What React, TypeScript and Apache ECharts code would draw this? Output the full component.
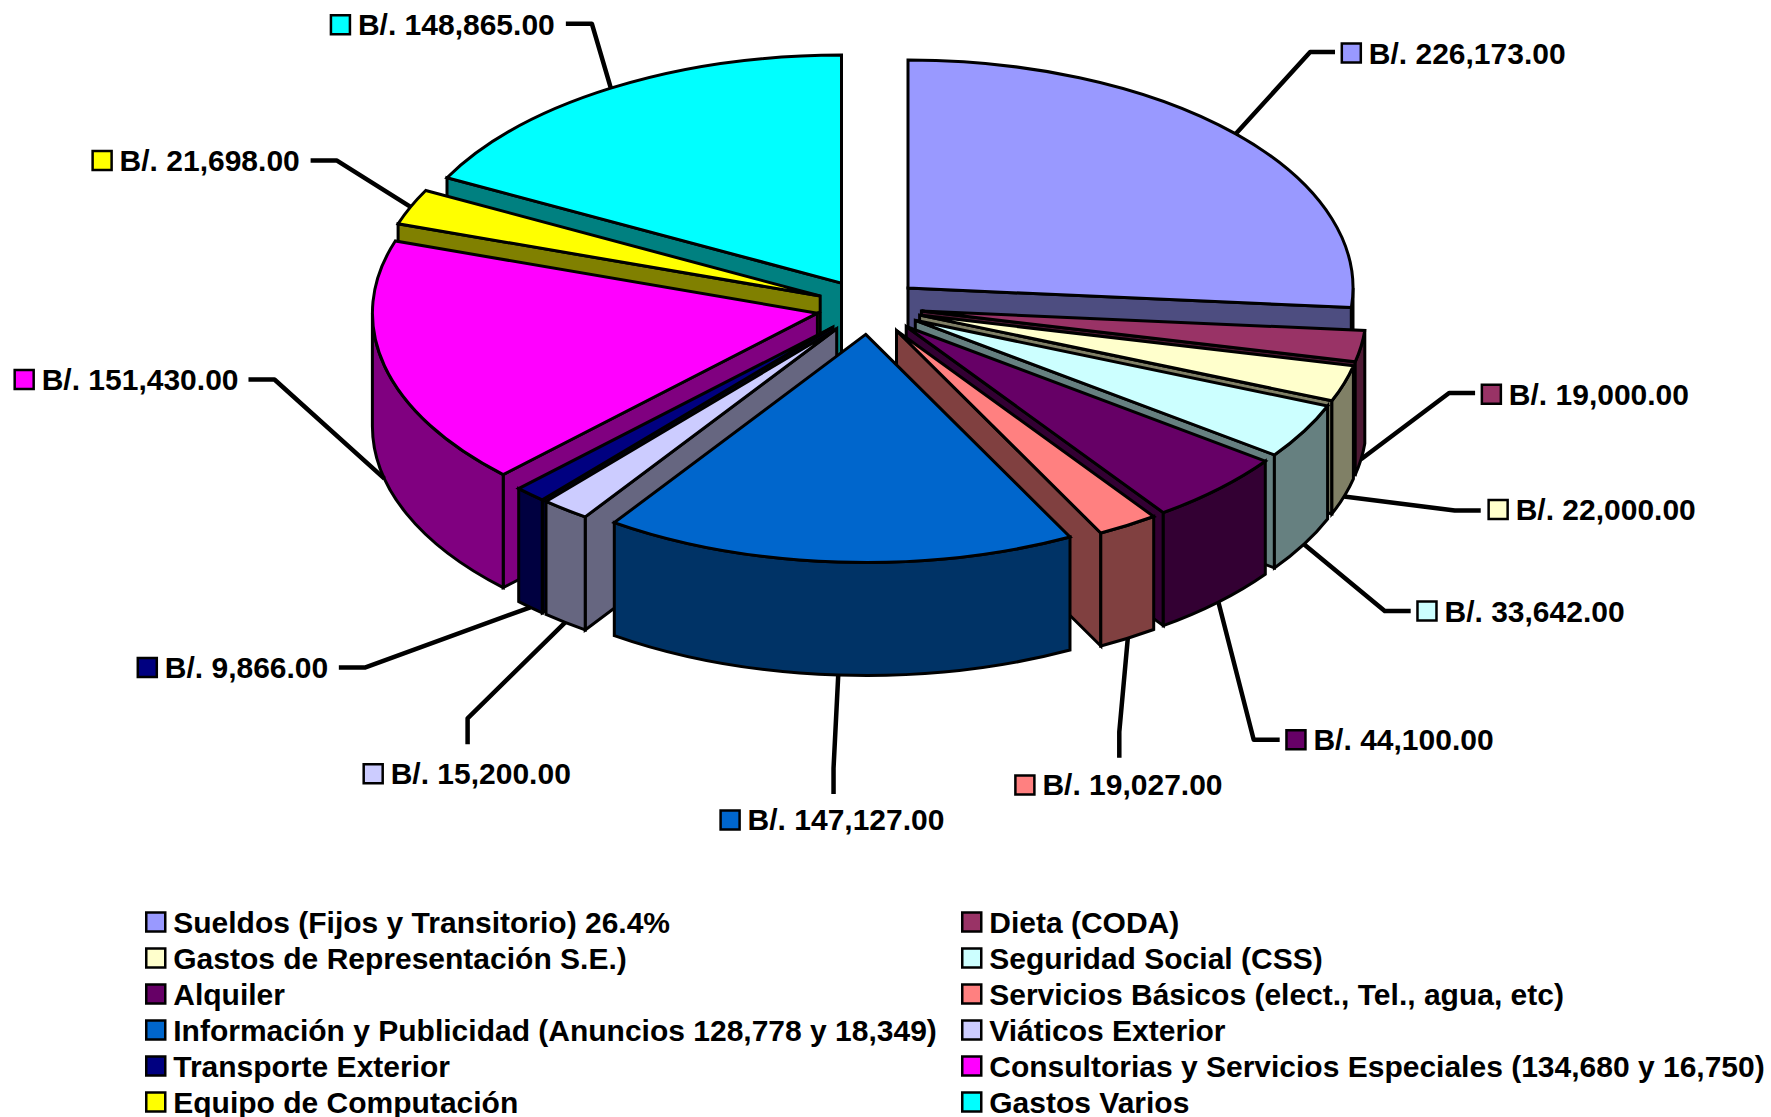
import React, { useEffect, useRef } from "react";
import * as echarts from "echarts";

const categories = [
  "Sueldos (Fijos y Transitorio) 26.4%",
  "Dieta (CODA)",
  "Gastos de Representación S.E.)",
  "Seguridad Social (CSS)",
  "Alquiler",
  "Servicios Básicos (elect., Tel., agua, etc)",
  "Información y Publicidad (Anuncios 128,778 y 18,349)",
  "Viáticos Exterior",
  "Transporte Exterior",
  "Consultorias y Servicios Especiales (134,680 y 16,750)",
  "Equipo de Computación",
  "Gastos Varios",
];
const values = [226173, 19000, 22000, 33642, 44100, 19027, 147127, 15200, 9866, 151430, 21698, 148865];
const topColors = ["#9999FF", "#993366", "#FFFFCC", "#CCFFFF", "#660066", "#FF8080", "#0066CC", "#CCCCFF", "#000080", "#FF00FF", "#FFFF00", "#00FFFF"];
const wallColors = ["#4D4D80", "#4D1933", "#808066", "#668080", "#330033", "#804040", "#003366", "#666680", "#000040", "#800080", "#808000", "#008080"];

// Chart layout, in page pixels
const CX = 869;
const CY = 306.8;
const RX = 445;
const RY = 228;
const EXPLODE_X = 53;
const EXPLODE_Y = 27.7;
const DEPTH = 113;
const S = 1771 / 1568;

// Leader routing and label placement: [elbow x, elbow y, end x, end y, key x, key y] in the shrunk reference scale
const leaderRoutes = [
  [1160, 46, 1182, 46, 1188, 47],
  [1283, 348, 1306, 348, 1312, 349],
  [1288, 452, 1311, 452, 1318, 451],
  [1226, 541, 1249, 541, 1255, 541],
  [1110, 655, 1133, 655, 1139, 655],
  [991, 648, 991, 671, 899, 695],
  [738, 680, 738, 703, 638, 726],
  [414, 636, 414, 659, 322, 685],
  [323, 591, 300, 591, 122, 591],
  [243, 336, 220, 336, 13, 336],
  [298, 142, 275, 142, 82, 142],
  [524, 21, 501, 21, 293, 22],
];

const total = values.reduce((a, b) => a + b, 0);
const startAngles: number[] = [];
values.reduce((acc, v) => {
  startAngles.push((acc / total) * 360);
  return acc + v;
}, 0);
const rad = (d: number) => (d * Math.PI) / 180;

function sliceGeom(i: number) {
  const a0 = startAngles[i];
  const a1 = a0 + (values[i] / total) * 360;
  const mid = (a0 + a1) / 2;
  const c = [CX + EXPLODE_X * Math.sin(rad(mid)), CY - EXPLODE_Y * Math.cos(rad(mid))];
  const p = (a: number, dz = 0) => [c[0] + RX * Math.sin(rad(a)), c[1] - RY * Math.cos(rad(a)) + dz];
  return { a0, a1, mid, c, p };
}

const fmt = (n: number) => n.toFixed(1);
const pt = (q: number[]) => `${fmt(q[0])} ${fmt(q[1])}`;

function slicePaths(i: number) {
  const { a0, a1, c, p } = sliceGeom(i);
  const cb = [c[0], c[1] + DEPTH];
  const wall = (a: number) => `M${pt(c)} L${pt(p(a))} L${pt(p(a, DEPTH))} L${pt(cb)} Z`;
  const large = a1 - a0 > 180 ? 1 : 0;
  const top = `M${pt(c)} L${pt(p(a0))} A${RX} ${RY} 0 ${large} 1 ${pt(p(a1))} Z`;
  const s = Math.max(a0, 90);
  const e = Math.min(a1, 270);
  const outer =
    e > s
      ? `M${pt(p(s))} A${RX} ${RY} 0 0 1 ${pt(p(e))} L${pt(p(e, DEPTH))} A${RX} ${RY} 0 0 0 ${pt(p(s, DEPTH))} Z`
      : null;
  // Only the radial walls that face the viewer are drawn
  const walls: string[] = [];
  if (Math.sin(rad(a0)) < -1e-6) walls.push(wall(a0));
  if (Math.sin(rad(a1)) > 1e-6) walls.push(wall(a1));
  return { walls, outer, top };
}

const LINE = 3;
const pathEl = (d: string, fill: string) => ({
  type: "path",
  shape: { pathData: d },
  style: { fill, stroke: "#000", lineWidth: LINE, lineJoin: "miter" },
  silent: true,
});

const drawOrder = values
  .map((_, i) => i)
  .sort((a, b) => Math.cos(rad(sliceGeom(b).mid)) - Math.cos(rad(sliceGeom(a).mid)));

const money = (v: number) =>
  "B/. " + v.toLocaleString("en-US", { minimumFractionDigits: 2, maximumFractionDigits: 2 });

function renderSlice(i: number) {
  return () => {
    const g = slicePaths(i);
    const children: any[] = g.walls.map((d) => pathEl(d, wallColors[i]));
    if (g.outer) children.push(pathEl(g.outer, wallColors[i]));
    children.push(pathEl(g.top, topColors[i]));
    return { type: "group", children };
  };
}

function renderLabel(params: any) {
  const i = params.dataIndex;
  const { mid, p } = sliceGeom(i);
  const start = p(mid, Math.cos(rad(mid)) < 0 ? DEPTH : 0);
  const r = leaderRoutes[i].map((v) => v * S);
  const KEY = 19;
  return {
    type: "group",
    children: [
      {
        type: "polyline",
        shape: { points: [start, [r[0], r[1]], [r[2], r[3]]] },
        style: { fill: "none", stroke: "#000", lineWidth: 4.5, lineJoin: "round" },
        silent: true,
      },
      {
        type: "rect",
        shape: { x: r[4], y: r[5] - KEY / 2, width: KEY, height: KEY },
        style: { fill: topColors[i], stroke: "#000", lineWidth: 2.5 },
        silent: true,
      },
      {
        type: "text",
        x: r[4] + KEY + 8,
        y: r[5],
        style: {
          text: money(values[i]),
          fontFamily: "Liberation Sans",
          fontWeight: "bold",
          fontSize: 30,
          fill: "#000",
          textAlign: "left",
          textVerticalAlign: "middle",
        },
        silent: true,
      },
    ],
  };
}

const legendBase = {
  orient: "vertical" as const,
  top: 907,
  height: 240,
  padding: 0,
  itemWidth: 19,
  itemHeight: 19,
  itemGap: 6,
  icon: "rect",
  selectedMode: false,
  itemStyle: { borderColor: "#000", borderWidth: 2.5 },
  textStyle: {
    fontFamily: "Liberation Sans",
    fontWeight: "bold" as const,
    fontSize: 30,
    color: "#000",
    padding: [0, 0, 0, 3],
  },
};

export default function App() {
  const ref = useRef<HTMLDivElement>(null);
  useEffect(() => {
    document.body.style.margin = "0";
    document.body.style.overflow = "hidden";
    const chart = echarts.init(ref.current!, null, { renderer: "svg" });
    const leftCol = categories.filter((_, i) => i % 2 === 0);
    const rightCol = categories.filter((_, i) => i % 2 === 1);
    chart.setOption({
      animation: false,
      backgroundColor: "#fff",
      legend: [
        { ...legendBase, left: 145, data: leftCol },
        { ...legendBase, left: 961, data: rightCol },
      ],
      series: [
        ...drawOrder.map((i) => ({
          type: "custom",
          name: categories[i],
          coordinateSystem: "none",
          itemStyle: { color: topColors[i] },
          data: [values[i]],
          z: 2,
          renderItem: renderSlice(i),
        })),
        {
          type: "custom",
          name: "Etiquetas",
          coordinateSystem: "none",
          data: values,
          z: 3,
          renderItem: renderLabel,
        },
      ],
    });
    return () => chart.dispose();
  }, []);
  return <div ref={ref} style={{ position: "absolute", left: 0, top: 0, width: 1771, height: 1117 }} />;
}
